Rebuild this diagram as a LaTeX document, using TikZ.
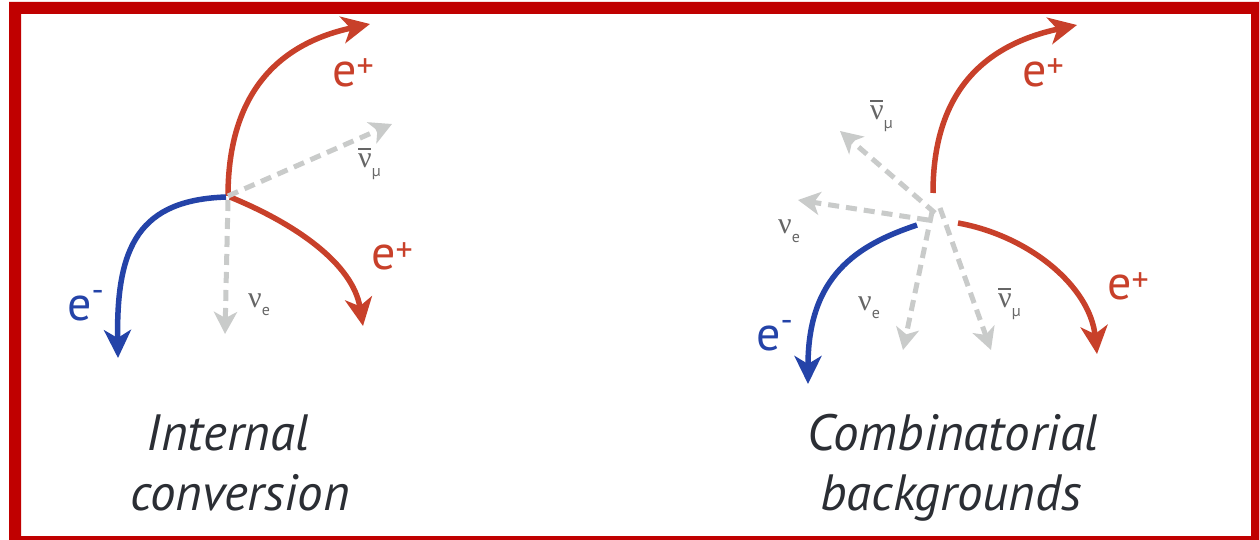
\documentclass[tikz,border=0pt]{standalone}
\usepackage{fontspec}
\setmainfont{PT Sans}
\newfontfamily\greekfont{Liberation Serif}
\usetikzlibrary{arrows.meta}

\definecolor{framered}{HTML}{C00000}
\definecolor{posred}{HTML}{C8402A}
\definecolor{eblue}{HTML}{2443A8}
\definecolor{nugray}{HTML}{C9CBCA}
\definecolor{labelgray}{HTML}{666666}
\definecolor{titleink}{HTML}{2B2E34}

% particle symbols
\newcommand\nusym{{\greekfont ν}}
\newcommand\nubarsym{\rlap{\raisebox{18pt}{\rule{13pt}{2pt}}}{\greekfont ν}}
\newcommand\lowsub[1]{\raisebox{-9pt}{\fontsize{16}{16}\selectfont #1}}
\newcommand\chargeup[2]{\raisebox{#1}{\fontsize{34}{34}\selectfont #2}}

\tikzset{
  track/.style={line width=5.5pt, -{Stealth[length=28pt,width=27pt,inset=8pt]}},
  positron/.style={track, draw=posred},
  electron/.style={track, draw=eblue},
  neutrino/.style={draw=nugray, line width=5pt, dash pattern=on 11pt off 7pt,
                   -{Stealth[length=22pt,width=23pt,inset=6pt]}},
  chargelabel/.style={anchor=base west, inner sep=0pt, font=\fontsize{48}{48}\selectfont},
  nulabel/.style={anchor=base west, inner sep=0pt, text=labelgray, font=\fontsize{30}{30}\selectfont},
  caption/.style={anchor=base, inner sep=0pt, text=titleink, font=\fontsize{51}{60}\selectfont\itshape},
}

\begin{document}
\begin{tikzpicture}[x=1pt, y=-1pt]
  \useasboundingbox (0,0) rectangle (1259,540);
  \fill[white] (0,0) rectangle (1259,540);
  % frame
  \fill[framered, even odd rule] (9,2) rectangle (1259,540) (21,14) rectangle (1251,536);

  % ---------- internal conversion ----------
  \coordinate (Lv)   at (228,196);
  \coordinate (Lvr)  at (230,197);
  \coordinate (Lvl)  at (226,197);
  \coordinate (Lup)  at (370,24);
  \coordinate (Ldn)  at (363,326);
  \coordinate (Lel)  at (118,358);
  \coordinate (Lnm)  at (392,124);
  \coordinate (Lnes) at (228,200);
  \coordinate (Lne)  at (225,334);

  \draw[positron] (Lv) .. controls +(0,-96) and +(-98,21) .. (Lup);
  \draw[positron] (Lvr) .. controls +(66,27) and +(-10,-62) .. (Ldn);
  \draw[electron] (Lvl) .. controls +(-86,3) and +(-2,-113) .. (Lel);
  \draw[neutrino] (Lv) -- (Lnm);
  \draw[neutrino] (Lnes) -- (Lne);

  \node[chargelabel, text=posred] (Lupl) at (332,87)  {e\chargeup{9pt}{+}};
  \node[chargelabel, text=posred] (Ldnl) at (371,270) {e\chargeup{9pt}{+}};
  \node[chargelabel, text=eblue]  (Lell) at (67,320)  {e\chargeup{19pt}{-}};
  \node[nulabel] (Lnml) at (358,168) {\nubarsym\lowsub{μ}};
  \node[nulabel] (Lnel) at (248,307) {\nusym\lowsub{e}};

  \node[caption] (Lt1) at (228,450) {Internal};
  \node[caption] (Lt2) at (240,510) {conversion};

  % ---------- combinatorial backgrounds ----------
  \coordinate (Rv)   at (933,193);
  \coordinate (Rvr)  at (958,223);
  \coordinate (Rvl)  at (917,225);
  \coordinate (Rup)  at (1077,25);
  \coordinate (Rdn)  at (1097,354);
  \coordinate (Rel)  at (808,384);
  \coordinate (Rnms) at (935,213);
  \coordinate (Rnm)  at (840,131);
  \coordinate (Rnls) at (928,220);
  \coordinate (Rnl)  at (798,200);
  \coordinate (Rnds) at (932,212);
  \coordinate (Rnd)  at (903,350);
  \coordinate (Rnbs) at (940,208);
  \coordinate (Rnb)  at (991,350);

  \draw[positron] (Rv) .. controls +(0,-96) and +(-98,21) .. (Rup);
  \draw[positron] (Rvr) .. controls +(72,13) and +(-7,-67) .. (Rdn);
  \draw[electron] (Rvl) .. controls +(-60,20) and +(0,-108) .. (Rel);
  \draw[neutrino] (Rnms) -- (Rnm);
  \draw[neutrino] (Rnls) -- (Rnl);
  \draw[neutrino] (Rnds) -- (Rnd);
  \draw[neutrino] (Rnbs) -- (Rnb);

  \node[chargelabel, text=posred] (Rupl) at (1022,87)  {e\chargeup{9pt}{+}};
  \node[chargelabel, text=posred] (Rdnl) at (1107,300) {e\chargeup{9pt}{+}};
  \node[chargelabel, text=eblue]  (Rell) at (756,350)  {e\chargeup{19pt}{-}};
  \node[nulabel] (Rnml) at (870,120) {\nubarsym\lowsub{μ}};
  \node[nulabel] (Rnll) at (778,234) {\nusym\lowsub{e}};
  \node[nulabel] (Rndl) at (858,310) {\nusym\lowsub{e}};
  \node[nulabel] (Rnbl) at (998,308) {\nubarsym\lowsub{μ}};

  \node[caption] (Rt1) at (953,450) {Combinatorial};
  \node[caption] (Rt2) at (951,510) {backgrounds};
\end{tikzpicture}
\end{document}
